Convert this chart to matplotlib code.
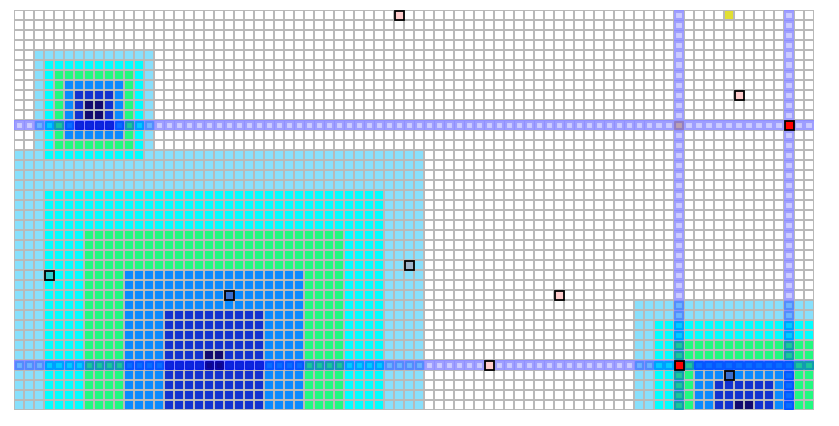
import matplotlib
matplotlib.use('Agg')
import matplotlib.pyplot as plt
from matplotlib.patches import Rectangle
from matplotlib.collections import PatchCollection
import matplotlib.colors as mcolors
import numpy as np

n_cols = 80
n_rows = 40

# heat zones: (col_start, col_end, row_start, row_end, level), ends inclusive
zones = [
    (2, 13, 4, 15, 1), (3, 12, 5, 14, 2), (4, 11, 6, 13, 3),
    (5, 10, 7, 12, 4), (6, 9, 8, 11, 5), (7, 8, 9, 10, 6),
    (0, 40, 14, 39, 1), (3, 36, 18, 39, 2), (7, 32, 22, 39, 3),
    (11, 28, 26, 39, 4), (15, 24, 30, 39, 5), (19, 20, 34, 35, 6),
    (62, 79, 29, 39, 1), (64, 79, 31, 39, 2), (66, 79, 33, 39, 3),
    (68, 77, 35, 39, 4), (70, 75, 37, 39, 5), (72, 73, 39, 39, 6),
]
level_colors = ['#ffffff', '#88e0fc', '#00ffff', '#20fa80', '#0a8aff', '#1232d0', '#110a70']

line_rows = [11, 35]
line_cols = [66, 77]

# faded markers (col, row)
faded_cols = [38, 72, 3, 21, 39, 54, 47, 71]
faded_rows = [0, 8, 26, 28, 25, 28, 35, 36]
# solid red markers
red_cols = [77, 66]
red_rows = [11, 35]
# yellow item
yellow_cols = [71]
yellow_rows = [0]
# item under the line crossing
tan_cols = [66]
tan_rows = [11]

levels = np.zeros((n_rows, n_cols), dtype=int)
for c0, c1, r0, r1, lv in zones:
    sub = levels[r0:r1 + 1, c0:c1 + 1]
    levels[r0:r1 + 1, c0:c1 + 1] = np.maximum(sub, lv)


def tint(color, k):
    # blue glow over a base colour
    rgb = np.array(mcolors.to_rgb(color))
    return (rgb[0] * k, rgb[1] * k, rgb[2] * k + (1 - k))


line_cells = set()
for r in line_rows:
    for c in range(n_cols):
        line_cells.add((c, r))
for c in line_cols:
    for r in range(n_rows):
        line_cells.add((c, r))

fig = plt.figure(figsize=(8.39, 4.26), dpi=100)
ax = fig.add_axes([14 / 839, 16 / 426, 800 / 839, 400 / 426])
ax.set_xlim(0, n_cols)
ax.set_ylim(n_rows, 0)
ax.axis('off')
ax.add_patch(Rectangle((0, 0), n_cols, n_rows, facecolor='#b9b9b9', edgecolor='none', zorder=0))

# glow under the gaps of line cells
gaps = [Rectangle((c, r), 1, 1) for c, r in sorted(line_cells)]
ax.add_collection(PatchCollection(gaps, facecolor='#9090ff', edgecolor='none', zorder=0.5))

ins = 0.1
cells, colors = [], []
lcells, lfaces, ledges = [], [], []
for r in range(n_rows):
    for c in range(n_cols):
        base = level_colors[levels[r, c]]
        if (c, r) in line_cells:
            if c in tan_cols and r in tan_rows:
                base = '#e8c8a0'
            lcells.append(Rectangle((c + ins + 0.05, r + ins + 0.05), 0.7, 0.7))
            lfaces.append(tint(base, 0.8))
            ledges.append(tint(base, 0.62))
        else:
            cells.append(Rectangle((c + ins, r + ins), 1 - 2 * ins, 1 - 2 * ins))
            colors.append(base)
ax.add_collection(PatchCollection(cells, facecolors=colors, edgecolors='none', zorder=1))
ax.add_collection(PatchCollection(lcells, facecolors=lfaces, edgecolors=ledges, linewidth=1.5, zorder=1))

for c, r in zip(yellow_cols, yellow_rows):
    ax.add_patch(Rectangle((c + ins, r + ins), 0.8, 0.8, facecolor='#e2e032', edgecolor='none', zorder=4))

mk = 0.05
for c, r in zip(faded_cols, faded_rows):
    ax.add_patch(Rectangle((c + mk, r + mk), 1 - 2 * mk, 1 - 2 * mk, facecolor=level_colors[levels[r, c]],
                           edgecolor='none', zorder=4))
    ax.add_patch(Rectangle((c + mk, r + mk), 1 - 2 * mk, 1 - 2 * mk, facecolor=(1.0, 0.0, 0.0, 0.2),
                           edgecolor='black', linewidth=1.3, zorder=5))
for c, r in zip(red_cols, red_rows):
    ax.add_patch(Rectangle((c + mk, r + mk), 1 - 2 * mk, 1 - 2 * mk, facecolor='#ff0000',
                           edgecolor='black', linewidth=1.3, zorder=5))

fig.savefig('out.png', dpi=100)
